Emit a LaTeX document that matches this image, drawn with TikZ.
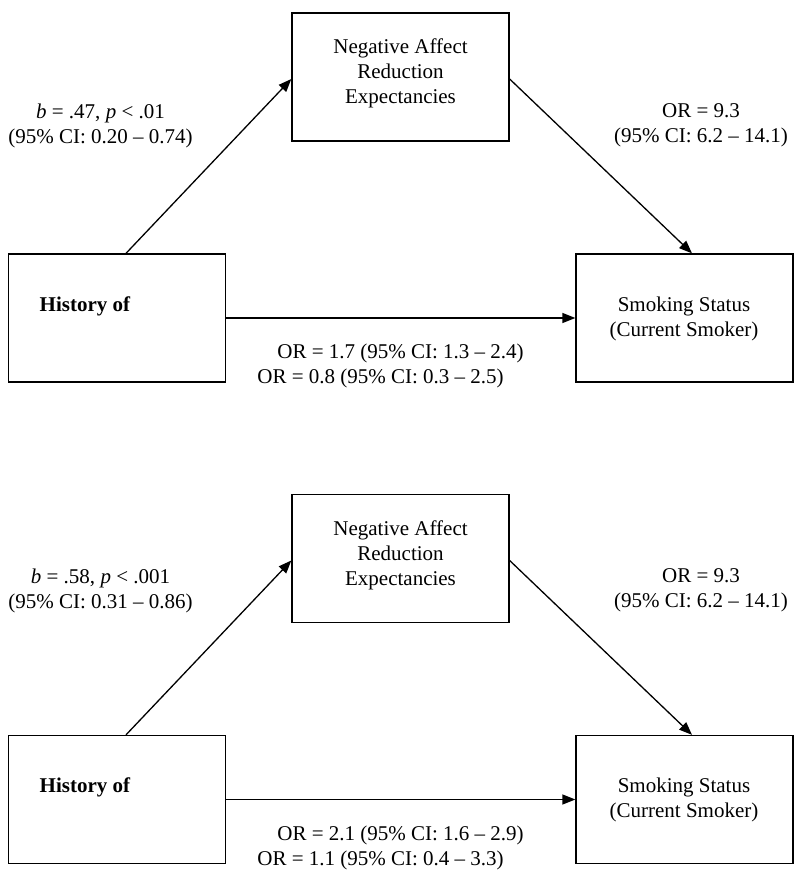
\documentclass[tikz,border=0pt]{standalone}
\usepackage{fontspec}
\setmainfont{Liberation Serif}
\usetikzlibrary{arrows.meta}
\begin{document}
\begin{tikzpicture}[x=1pt,y=-1pt,
  box/.style={draw,line width=1.3pt,minimum width=217pt,minimum height=128pt,inner sep=0pt},
  txt/.style={inner sep=0pt,align=center,font=\fontsize{21}{25}\selectfont},
  conn/.style={line width=1.3pt,-{Triangle[length=13pt,width=10pt]}}]
\useasboundingbox[fill=white] (0,0) rectangle (800,874);
% ---------- top diagram ----------
\node[box] (tneg) at (400.5,77) {};
\node[box] (thist) at (117,318) {};
\node[box] (tsmk) at (684.5,318) {};
\node[txt] (tnegt) at (400.5,73) {Negative Affect\\Reduction\\Expectancies};
\node[txt] (thistt) at (85,306) {\textbf{History of}};
\node[txt] (tsmkt) at (684,318.5) {Smoking Status\\(Current Smoker)};
\draw[conn] ([xshift=9pt]thist.north) -- ([yshift=-2pt]tneg.west);
\draw[conn] ([yshift=-2pt]tneg.east) -- ([xshift=7.5pt]tsmk.north);
\draw[conn] (thist.east) -- (tsmk.west);
\node[txt] (tb) at (100.5,125.5) {\textit{b} = .47, \textit{p} < .01\\(95\% CI: 0.20 – 0.74)};
\node[txt] (tor) at (701,125.5) {OR = 9.3\\(95\% CI: 6.2 – 14.1)};
\node[txt] (tor1) at (400.5,353) {OR = 1.7 (95\% CI: 1.3 – 2.4)};
\node[txt] (tor2) at (380.5,378) {OR = 0.8 (95\% CI: 0.3 – 2.5)};
% ---------- bottom diagram ----------
\node[box] (bneg) at (400.5,558.5) {};
\node[box] (bhist) at (117,799.5) {};
\node[box] (bsmk) at (684.5,799.5) {};
\node[txt] (bnegt) at (400.5,555) {Negative Affect\\Reduction\\Expectancies};
\node[txt] (bhistt) at (85,787) {\textbf{History of}};
\node[txt] (bsmkt) at (684,799.5) {Smoking Status\\(Current Smoker)};
\draw[conn] ([xshift=9pt]bhist.north) -- ([yshift=-2pt]bneg.west);
\draw[conn] ([yshift=-2pt]bneg.east) -- ([xshift=7.5pt]bsmk.north);
\draw[conn] (bhist.east) -- (bsmk.west);
\node[txt] (bb) at (100.5,590.5) {\textit{b} = .58, \textit{p} < .001\\(95\% CI: 0.31 – 0.86)};
\node[txt] (bor) at (701,590.5) {OR = 9.3\\(95\% CI: 6.2 – 14.1)};
\node[txt] (bor1) at (400.5,835) {OR = 2.1 (95\% CI: 1.6 – 2.9)};
\node[txt] (bor2) at (380.5,860) {OR = 1.1 (95\% CI: 0.4 – 3.3)};
\end{tikzpicture}
\end{document}
